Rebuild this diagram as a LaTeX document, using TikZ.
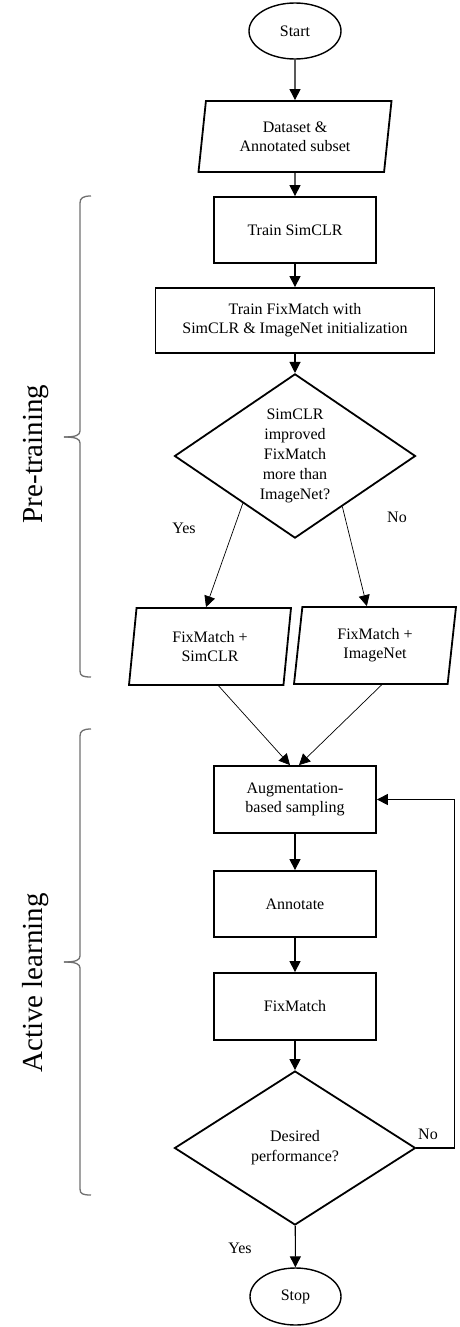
\documentclass[tikz,border=0pt]{standalone}
\usepackage{fontspec}
\setmainfont{Liberation Serif}
\usepackage{tikz}
\usetikzlibrary{shapes.geometric, arrows.meta, calc}
\definecolor{bracegray}{HTML}{707070}

\tikzset{
  box/.style={draw, rectangle, line width=1.8pt, align=center, inner sep=0pt,
    minimum width=162pt, minimum height=66pt, font=\fontsize{16}{19}\selectfont},
  iobox/.style={draw, trapezium, trapezium left angle=76, trapezium right angle=104,
    trapezium stretches body, line width=1.8pt, align=center, inner sep=0pt,
    font=\fontsize{16}{19}\selectfont},
  term/.style={draw, ellipse, line width=1.4pt, inner sep=0pt,
    font=\fontsize{16}{19}\selectfont},
  decide/.style={draw, diamond, line width=1.8pt, align=center, inner sep=0pt,
    minimum width=241pt, minimum height=154pt, font=\fontsize{16}{20}\selectfont},
  flow/.style={line width=1.1pt, -{Triangle[length=11pt,width=11pt]}},
  thinflow/.style={line width=0.7pt, -{Triangle[length=11pt,width=11pt]}},
  lbl/.style={font=\fontsize{16}{19}\selectfont},
  phase/.style={font=\fontsize{29}{34}\selectfont, rotate=90, anchor=base},
  bracket/.style={line width=1.3pt, bracegray}
}

\begin{document}
\begin{tikzpicture}[x=1pt, y=-1pt]
\useasboundingbox (0,0) rectangle (459,1327);

% Main column
\node[term, minimum width=92pt, minimum height=56pt] (start) at (295,31) {Start};
\node[iobox, minimum width=193pt, minimum height=71pt] (data) at (295,136.5) {Dataset \&\\Annotated subset};
\node[box] (simclr) at (295,230) {Train SimCLR};
\node[box, minimum width=279pt, minimum height=65pt] (fminit) at (295,320.5) {Train FixMatch with\\SimCLR \& ImageNet initialization};
\node[decide] (d1) at (295,456) {SimCLR\\improved\\FixMatch\\more than\\ImageNet?};

% Two pre-trained models
\node[iobox, minimum width=162pt, minimum height=77pt] (fmsim) at (210,646.5) {FixMatch +\\SimCLR};
\node[iobox, minimum width=162pt, minimum height=77pt] (fmimg) at (375,645.5) {FixMatch +\\ImageNet};

% Active learning loop
\node[box, minimum height=67pt] (aug) at (295,799.5) {Augmentation-\\based sampling};
\node[box] (ann) at (295,904) {Annotate};
\node[box, minimum height=67pt] (fm) at (295,1006.5) {FixMatch};
\node[decide] (d2) at (295,1148) {Desired\\performance?};
\node[term, minimum width=91pt, minimum height=57pt] (stop) at (295.5,1296.5) {Stop};

% Connectors
\draw[flow] (start) -- (data);
\draw[flow] (data) -- (simclr);
\draw[flow] (simclr) -- (fminit);
\draw[flow] (fminit) -- (d1);
\draw[thinflow] ($(d1.west)!0.57!(d1.south)$) -- ($(fmsim.top left corner)!0.45!(fmsim.top right corner)$);
\draw[thinflow] ($(d1.east)!0.61!(d1.south)$) -- ($(fmimg.top left corner)!0.42!(fmimg.top right corner)$);
\draw[thinflow] ($(fmsim.bottom left corner)!0.58!(fmsim.bottom right corner)$) -- ($(aug.north)+(-5,0)$);
\draw[thinflow] ($(fmimg.bottom left corner)!0.57!(fmimg.bottom right corner)$) -- ($(aug.north)+(4,0)$);
\draw[flow] (aug) -- (ann);
\draw[flow] (ann) -- (fm);
\draw[flow] (fm) -- (d2);
\draw[flow] (d2) -- (stop);
\draw[flow] (d2.east) -- ++(38,0) |- (aug.east);

% Branch labels
\node[lbl] (yes1) at (184,528) {Yes};
\node[lbl] (no1) at (397,517) {No};
\node[lbl] (no2) at (428,1134) {No};
\node[lbl] (yes2) at (240,1248) {Yes};

% Braces
\draw[bracket] (91,196) .. controls (83,196) and (80,198) .. (80,203) -- (80,431)
  .. controls (80,435) and (76,437) .. (64,437);
\draw[bracket] (64,437) .. controls (76,437) and (80,439) .. (80,443) -- (80,671)
  .. controls (80,676) and (83,677) .. (91,677);
\draw[bracket] (91,729) .. controls (83,729) and (80,731) .. (80,736) -- (80,956)
  .. controls (80,960) and (76,962) .. (64,962);
\draw[bracket] (64,962) .. controls (76,962) and (80,964) .. (80,968) -- (80,1189)
  .. controls (80,1194) and (83,1195) .. (91,1195);

% Phase labels
\node[phase] (pre) at (42,454) {Pre-training};
\node[phase] (act) at (42,983) {Active learning};
\end{tikzpicture}
\end{document}
